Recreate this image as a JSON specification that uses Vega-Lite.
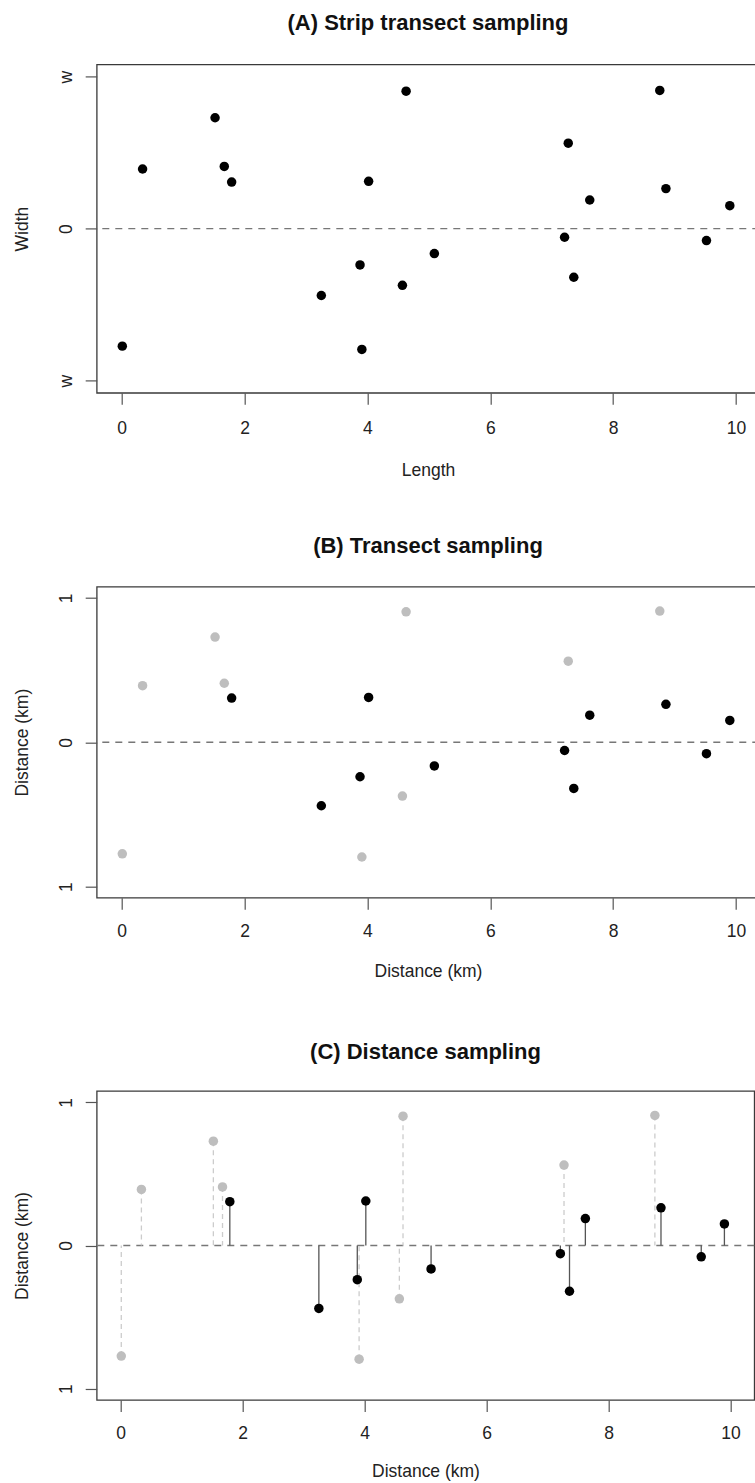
{
  "$schema": "https://vega.github.io/schema/vega-lite/v6.json",
  "autosize": {"type": "none"},
  "padding": {"left": 96.7, "top": 64.4, "right": 700, "bottom": 1450},
  "background": "white",
  "datasets": {
    "pts": [
      {"x": 0.01, "y": -0.773, "detected": "no"},
      {"x": 0.34, "y": 0.392, "detected": "no"},
      {"x": 1.52, "y": 0.729, "detected": "no"},
      {"x": 1.67, "y": 0.409, "detected": "no"},
      {"x": 1.79, "y": 0.306, "detected": "yes"},
      {"x": 3.25, "y": -0.44, "detected": "yes"},
      {"x": 3.88, "y": -0.239, "detected": "yes"},
      {"x": 3.91, "y": -0.795, "detected": "no"},
      {"x": 4.02, "y": 0.311, "detected": "yes"},
      {"x": 4.63, "y": 0.904, "detected": "no"},
      {"x": 4.57, "y": -0.373, "detected": "no"},
      {"x": 5.09, "y": -0.164, "detected": "yes"},
      {"x": 7.21, "y": -0.057, "detected": "yes"},
      {"x": 7.27, "y": 0.562, "detected": "no"},
      {"x": 7.36, "y": -0.32, "detected": "yes"},
      {"x": 7.62, "y": 0.188, "detected": "yes"},
      {"x": 8.76, "y": 0.909, "detected": "no"},
      {"x": 8.86, "y": 0.263, "detected": "yes"},
      {"x": 9.52, "y": -0.079, "detected": "yes"},
      {"x": 9.9, "y": 0.151, "detected": "yes"}
    ],
    "zero": [{"line": "zero"}]
  },
  "spacing": 193.3,
  "bounds": "flush",
  "vconcat": [
    {
      "width": 662.6,
      "height": 328.4,
      "title": {"text": "(A) Strip transect sampling", "fontSize": 22, "fontWeight": "bold", "color": "#111", "anchor": "middle", "frame": "group", "baseline": "alphabetic", "offset": 12},
      "layer": [
        {
          "data": {"name": "zero"},
          "mark": {"type": "rule", "color": "#777", "strokeWidth": 1.3, "strokeDash": [7, 6]},
          "encoding": {"y": {"datum": 0, "type": "quantitative"}}
        },
        {
          "data": {"name": "pts"},
          "mark": {"type": "circle", "size": 90, "opacity": 1, "color": "#000"},
          "encoding": {
            "x": {"field": "x", "type": "quantitative", "scale": {"domain": [-0.407, 10.38], "nice": false, "zero": false},
              "axis": {"title": "Length", "values": [0, 2, 4, 6, 8, 10], "format": "d", "labelPadding": 29.5, "titleY": 82.8}},
            "y": {"field": "y", "type": "quantitative", "scale": {"domain": [-1.08, 1.08], "nice": false, "zero": false},
              "axis": {"title": "Width", "values": [-1, 0, 1], "labelExpr": "datum.value == 0 ? '0' : 'w'", "titleY": 164.2}}
          }
        }
      ]
    },
    {
      "width": 662.6,
      "height": 311,
      "title": {"text": "(B) Transect sampling", "fontSize": 22, "fontWeight": "bold", "color": "#111", "anchor": "middle", "frame": "group", "baseline": "alphabetic", "offset": 12},
      "layer": [
        {
          "data": {"name": "zero"},
          "mark": {"type": "rule", "color": "#777", "strokeWidth": 1.3, "strokeDash": [7, 6]},
          "encoding": {"y": {"datum": 0, "type": "quantitative"}}
        },
        {
          "data": {"name": "pts"},
          "mark": {"type": "circle", "size": 90, "opacity": 1},
          "encoding": {
            "x": {"field": "x", "type": "quantitative", "scale": {"domain": [-0.407, 10.38], "nice": false, "zero": false},
              "axis": {"title": "Distance (km)", "values": [0, 2, 4, 6, 8, 10], "format": "d", "labelPadding": 27.5, "titleY": 78.7}},
            "y": {"field": "y", "type": "quantitative", "scale": {"domain": [-1.077, 1.078], "nice": false, "zero": false},
              "axis": {"title": "Distance (km)", "values": [-1, 0, 1], "labelExpr": "datum.value == 0 ? '0' : '1'", "titleY": 155.5}},
            "color": {"field": "detected", "type": "nominal", "scale": {"domain": ["no", "yes"], "range": ["#bebebe", "#000000"]}, "legend": null}
          }
        }
      ]
    },
    {
      "width": 657.6,
      "height": 309,
      "title": {"text": "(C) Distance sampling", "fontSize": 22, "fontWeight": "bold", "color": "#111", "anchor": "middle", "frame": "group", "baseline": "alphabetic", "offset": 10},
      "layer": [
        {
          "data": {"name": "zero"},
          "mark": {"type": "rule", "color": "#777", "strokeWidth": 1.3, "strokeDash": [7, 6]},
          "encoding": {"y": {"datum": 0, "type": "quantitative"}}
        },
        {
          "data": {"name": "pts"},
          "mark": {"type": "rule", "strokeWidth": 1.3},
          "encoding": {
            "x": {"field": "x", "type": "quantitative"},
            "y": {"field": "y", "type": "quantitative"},
            "y2": {"datum": 0},
            "color": {"condition": {"test": "datum.detected == 'yes'", "value": "#555555"}, "value": "#cccccc"},
            "strokeDash": {"condition": {"test": "datum.detected == 'yes'", "value": [1, 0]}, "value": [5, 4]}
          }
        },
        {
          "data": {"name": "pts"},
          "mark": {"type": "circle", "size": 90, "opacity": 1},
          "encoding": {
            "x": {"field": "x", "type": "quantitative", "scale": {"domain": [-0.393, 10.39], "nice": false, "zero": false},
              "axis": {"title": "Distance (km)", "values": [0, 2, 4, 6, 8, 10], "format": "d", "labelPadding": 26.9, "titleY": 76.7}},
            "y": {"field": "y", "type": "quantitative", "scale": {"domain": [-1.08, 1.08], "nice": false, "zero": false},
              "axis": {"title": "Distance (km)", "values": [-1, 0, 1], "labelExpr": "datum.value == 0 ? '0' : '1'", "titleY": 154.5}},
            "color": {"field": "detected", "type": "nominal", "scale": {"domain": ["no", "yes"], "range": ["#bebebe", "#000000"]}, "legend": null}
          }
        }
      ]
    }
  ],
  "config": {
    "font": "Liberation Sans",
    "view": {"stroke": "#3a3a3a", "strokeWidth": 1.3},
    "axis": {
      "grid": false, "domain": false, "tickColor": "#555", "tickSize": 11.5, "tickWidth": 1.2,
      "labelFont": "Liberation Sans", "labelFontSize": 17.5, "labelColor": "#222",
      "titleFont": "Liberation Sans", "titleFontSize": 17.5, "titleFontWeight": "normal", "titleColor": "#222",
      "labelOverlap": false, "labelFlush": false
    },
    "axisX": {"labelBaseline": "alphabetic", "labelAlign": "center", "titleBaseline": "alphabetic", "titleAlign": "center"},
    "axisY": {"labelAngle": 270, "labelBaseline": "alphabetic", "labelAlign": "center", "labelPadding": 13.5,
      "titleAngle": 270, "titleBaseline": "alphabetic", "titleAlign": "center", "titleX": -69}
  }
}
